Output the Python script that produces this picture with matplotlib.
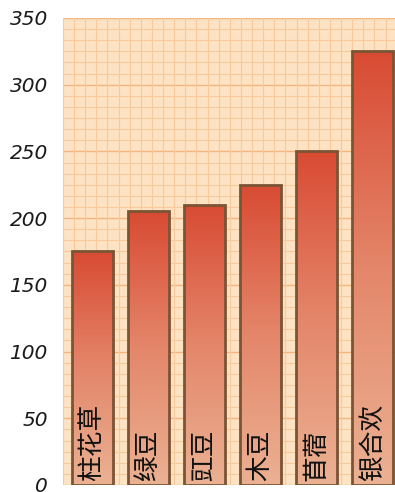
import numpy as np
import matplotlib.pyplot as plt
from matplotlib.colors import LinearSegmentedColormap

# 数据
categorias = ['柱花草', '绿豆', '豇豆', '木豆', '苜蓿', '银合欢']
valores = [175, 205, 210, 225, 250, 325]
yticks = [0, 50, 100, 150, 200, 250, 300, 350]

fig = plt.figure(figsize=(3.95, 4.92), dpi=100)
ax = fig.add_axes([63 / 395, 7 / 492, 332 / 395, 467 / 492])
ax.set_facecolor('#fde3c4')

x = np.arange(len(categorias))
xmin, xmax = -0.527, 5.40
ax.set_xlim(xmin, xmax)
ax.set_ylim(0, 350)

# papel quadriculado
passo_y = 50 / 6
passo_x = passo_y * (467 / 350) / 56
for k, yy in enumerate(np.arange(0, 350.1, passo_y)):
    cor = '#f4b47e' if k % 6 == 0 else '#f7c99c'
    ax.axhline(yy, color=cor, lw=1.0 if k % 6 == 0 else 0.8, zorder=0)
for k, xx in enumerate(np.arange(xmin, xmax, passo_x)):
    ax.axvline(xx, color='#f7c99c', lw=0.8, zorder=0)

cmap = LinearSegmentedColormap.from_list('barra', ['#ebb193', '#e4866a', '#d84b33'])
grad = np.linspace(0, 1, 256).reshape(-1, 1)

barras = ax.bar(x, valores, width=0.73, color='none', edgecolor='#7a5434',
                linewidth=2, zorder=3)
for b in barras:
    x0, y0 = b.get_x(), b.get_y()
    w, h = b.get_width(), b.get_height()
    im = ax.imshow(grad, cmap=cmap, aspect='auto', origin='lower',
                   extent=[x0, x0 + w, 0, h], zorder=2)
    im.set_clip_path(b)

ax.set_xlim(xmin, xmax)
ax.set_ylim(0, 350)

for xi, nome in zip(x, categorias):
    ax.text(xi, 3, nome, rotation=90, ha='center', va='bottom', fontsize=18.5,
            family=['Noto Sans CJK SC', 'DejaVu Sans'], color='#111111', zorder=4)

ax.set_xticks([])
ax.set_yticks(yticks)
ax.set_yticklabels([str(v) for v in yticks], fontsize=14.5, style='italic',
                   color='#1a1a1a')
ax.tick_params(axis='y', length=0, pad=11)
for s in ax.spines.values():
    s.set_visible(False)

plt.savefig('out.png', dpi=100)
